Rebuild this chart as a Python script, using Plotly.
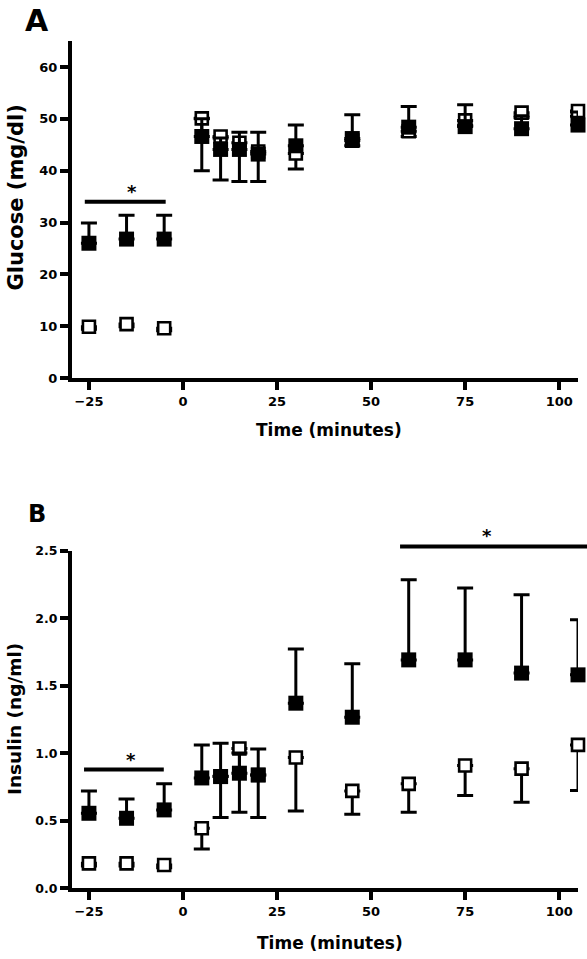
import plotly.graph_objects as go

# ---------------- data ----------------
time_min = [-25, -15, -5, 5, 10, 15, 20, 30, 45, 60, 75, 90, 105]
x_ticks = [-25, 0, 25, 50, 75, 100]

glucose_filled = [26.0, 26.8, 26.8, 46.6, 44.1, 44.1, 43.2, 44.8, 46.2, 48.4, 48.5, 48.1, 48.8]
glucose_filled_err = [3.9, 4.6, 4.6, 3.4, 2.2, 3.3, 4.2, 4.0, 4.6, 4.0, 4.2, 2.5, 2.5]
glucose_open = [9.9, 10.4, 9.6, 50.1, 46.6, 45.4, 43.7, 43.3, 45.8, 47.6, 49.7, 51.2, 51.5]
glucose_open_err = [0.5, 0.5, 0.5, 10.1, 8.4, 7.5, 5.8, 3.0, 1.0, 1.0, 1.0, 1.0, 1.0]

insulin_filled = [0.556, 0.519, 0.581, 0.818, 0.828, 0.853, 0.84, 1.372, 1.268, 1.693, 1.693, 1.595, 1.582]
insulin_filled_err = [0.166, 0.143, 0.193, 0.245, 0.248, 0.15, 0.193, 0.401, 0.396, 0.594, 0.532, 0.581, 0.408]
insulin_open = [0.185, 0.185, 0.173, 0.445, 0.83, 1.036, 0.84, 0.97, 0.722, 0.774, 0.91, 0.887, 1.063]
insulin_open_err = [0.02, 0.02, 0.02, 0.154, 0.306, 0.472, 0.316, 0.397, 0.173, 0.21, 0.223, 0.249, 0.339]

# significance bars: (x start, x end, y)
sig_A = [(-26.1, -4.6, 34.0)]
sig_B = [(-26.3, -5.1, 0.88), (57.7, 107.8, 2.534)]

# ---------------- layout geometry ----------------
W, H = 587, 959
XR = [-29.5, 105.0]
XD = [72 / W, 578 / W]
YR_A = [0, 65]
YD_A = [1 - 378 / H, 1 - 41.1 / H]
YR_B = [0, 2.5]
YD_B = [1 - 888.3 / H, 1 - 551 / H]

FONT = "DejaVu Sans"
n = len(time_min)
zeros = [0] * n


def xp(v):
    return XD[0] + (v - XR[0]) / (XR[1] - XR[0]) * (XD[1] - XD[0])


def yp(v, yr, yd):
    return yd[0] + (v - yr[0]) / (yr[1] - yr[0]) * (yd[1] - yd[0])


fig = go.Figure()


def add_pair(xa, ya, filled, ferr, openv, oerr):
    fig.add_trace(go.Scatter(
        x=time_min, y=openv, mode="markers", xaxis=xa, yaxis=ya,
        marker=dict(symbol="square", size=12, color="white",
                    line=dict(color="black", width=2.6)),
        error_y=dict(type="data", symmetric=False, array=zeros, arrayminus=oerr,
                     color="black", thickness=3, width=8),
        cliponaxis=False, showlegend=False))
    fig.add_trace(go.Scatter(
        x=time_min, y=filled, mode="markers", xaxis=xa, yaxis=ya,
        marker=dict(symbol="square", size=15, color="black",
                    line=dict(color="black", width=0)),
        error_y=dict(type="data", symmetric=False, array=ferr, arrayminus=zeros,
                     color="black", thickness=3, width=8),
        cliponaxis=False, showlegend=False))


add_pair("x", "y", glucose_filled, glucose_filled_err, glucose_open, glucose_open_err)
add_pair("x2", "y2", insulin_filled, insulin_filled_err, insulin_open, insulin_open_err)

axis_common = dict(
    showline=True, linecolor="black", linewidth=4, mirror=False,
    showgrid=False, zeroline=False, ticks="outside", ticklen=8,
    tickwidth=3.5, tickcolor="black", automargin=False,
    tickfont=dict(family=FONT, size=13, color="black", weight="bold"),
)

fig.update_layout(
    width=W, height=H, margin=dict(l=0, r=0, t=0, b=0),
    paper_bgcolor="white", plot_bgcolor="white",
    xaxis=dict(domain=XD, range=XR, anchor="y", tickvals=x_ticks, **axis_common),
    yaxis=dict(domain=YD_A, range=YR_A, anchor="x", dtick=10, tick0=0, **axis_common),
    xaxis2=dict(domain=XD, range=XR, anchor="y2", tickvals=x_ticks, **axis_common),
    yaxis2=dict(domain=YD_B, range=YR_B, anchor="x2", dtick=0.5, tick0=0,
                tickformat=".1f", **axis_common),
)
fig.layout.yaxis2.tickfont.size = 12.5

shapes = []
annos = []
for (x0, x1, yv) in sig_A:
    shapes.append(dict(type="line", xref="paper", yref="paper",
                       x0=xp(x0), x1=xp(x1), y0=yp(yv, YR_A, YD_A), y1=yp(yv, YR_A, YD_A),
                       line=dict(color="black", width=4)))
    annos.append(dict(x=xp((x0 + x1) / 2), y=yp(yv, YR_A, YD_A), xref="paper", yref="paper",
                      text="*", showarrow=False, yanchor="bottom", yshift=-2,
                      font=dict(family=FONT, size=18, color="black", weight="bold")))
for (x0, x1, yv) in sig_B:
    shapes.append(dict(type="line", xref="paper", yref="paper",
                       x0=xp(x0), x1=xp(x1), y0=yp(yv, YR_B, YD_B), y1=yp(yv, YR_B, YD_B),
                       line=dict(color="black", width=4)))
    annos.append(dict(x=xp((x0 + x1) / 2), y=yp(yv, YR_B, YD_B), xref="paper", yref="paper",
                      text="*", showarrow=False, yanchor="bottom", yshift=-2,
                      font=dict(family=FONT, size=18, color="black", weight="bold")))


def txt(text, px, py, size, angle=0):
    return dict(x=px / W, y=1 - py / H, xref="paper", yref="paper", text=text,
                showarrow=False, xanchor="center", yanchor="middle", textangle=angle,
                font=dict(family=FONT, size=size, color="black", weight="bold"))


annos += [
    txt("A", 36.5, 21, 30),
    txt("B", 37, 513.5, 24),
    txt("Glucose (mg/dl)", 15, 197.5, 21, -90),
    txt("Insulin (ng/ml)", 14, 719, 18.5, -90),
    txt("Time (minutes)", 329, 430, 17),
    txt("Time (minutes)", 330, 943, 17),
]

fig.update_layout(shapes=shapes, annotations=annos)
fig.write_html(
    "out.html",
    config={"displayModeBar": False},
    post_script="document.body.style.margin='0';document.body.style.overflow='hidden';",
)
